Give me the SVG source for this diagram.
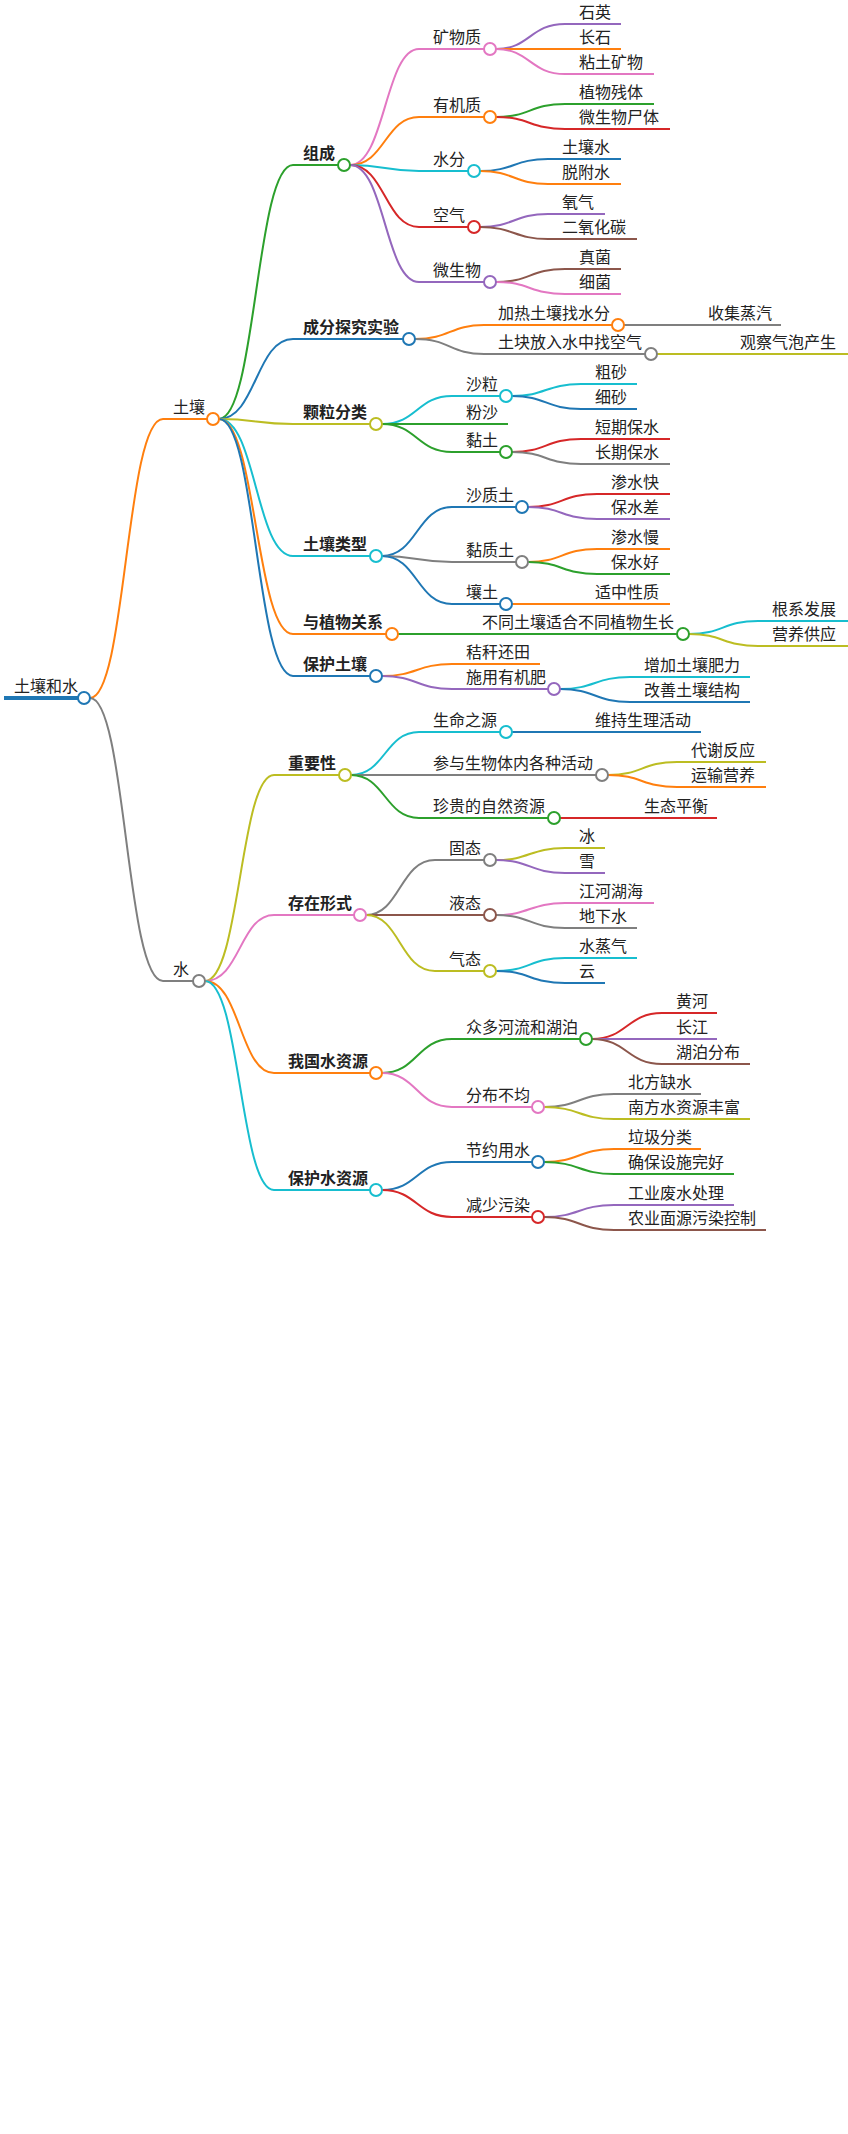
<svg xmlns="http://www.w3.org/2000/svg" width="848" height="2134" viewBox="0 0 848 2134">
<style>
text{font-family:"Noto Sans CJK SC","Liberation Sans",sans-serif;font-size:16px;fill:#222}
.b{font-weight:bold}
path,line{fill:none;stroke-width:2}
circle{fill:#fff;stroke-width:2}
.blue{stroke:#1f77b4}.orange{stroke:#ff7f0e}.green{stroke:#2ca02c}.red{stroke:#d62728}.purple{stroke:#9467bd}.brown{stroke:#8c564b}.pink{stroke:#e377c2}.gray{stroke:#7f7f7f}.olive{stroke:#bcbd22}.cyan{stroke:#17becf}
</style>
<rect width="848" height="2134" fill="#fff"/>
<g id="connectors">
<path class="orange" d="M90 698C126 698 126 419 163 419"/>
<path class="gray" d="M90 698C126 698 126 981 163 981"/>
<path class="green" d="M219 419C256 419 256 165 293 165"/>
<path class="blue" d="M219 419C256 419 256 339 293 339"/>
<path class="olive" d="M219 419C256 419 256 424 293 424"/>
<path class="cyan" d="M219 419C256 419 256 556 293 556"/>
<path class="orange" d="M219 419C256 419 256 634 293 634"/>
<path class="blue" d="M219 419C256 419 256 676 293 676"/>
<path class="pink" d="M350 165C385 165 385 49 419 49"/>
<path class="orange" d="M350 165C385 165 385 117 419 117"/>
<path class="cyan" d="M350 165C385 165 385 171 419 171"/>
<path class="red" d="M350 165C385 165 385 227 419 227"/>
<path class="purple" d="M350 165C385 165 385 282 419 282"/>
<path class="purple" d="M496 49C530 49 530 24 565 24"/>
<path class="orange" d="M496 49C530 49 530 49 565 49"/>
<path class="pink" d="M496 49C530 49 530 74 565 74"/>
<path class="green" d="M496 117C530 117 530 104 565 104"/>
<path class="red" d="M496 117C530 117 530 129 565 129"/>
<path class="blue" d="M480 171C514 171 514 159 548 159"/>
<path class="orange" d="M480 171C514 171 514 184 548 184"/>
<path class="purple" d="M480 227C514 227 514 214 548 214"/>
<path class="brown" d="M480 227C514 227 514 239 548 239"/>
<path class="brown" d="M496 282C530 282 530 269 565 269"/>
<path class="pink" d="M496 282C530 282 530 294 565 294"/>
<path class="orange" d="M415 339C450 339 450 325 484 325"/>
<path class="gray" d="M415 339C450 339 450 354 484 354"/>
<path class="gray" d="M624 325L694 325"/>
<path class="olive" d="M657 354L726 354"/>
<path class="cyan" d="M382 424C417 424 417 396 452 396"/>
<path class="green" d="M382 424C417 424 417 424 452 424"/>
<path class="green" d="M382 424C417 424 417 452 452 452"/>
<path class="cyan" d="M512 396C546 396 546 384 581 384"/>
<path class="blue" d="M512 396C546 396 546 409 581 409"/>
<path class="red" d="M512 452C546 452 546 439 581 439"/>
<path class="gray" d="M512 452C546 452 546 464 581 464"/>
<path class="blue" d="M382 556C417 556 417 507 452 507"/>
<path class="gray" d="M382 556C417 556 417 562 452 562"/>
<path class="blue" d="M382 556C417 556 417 604 452 604"/>
<path class="red" d="M528 507C562 507 562 494 597 494"/>
<path class="purple" d="M528 507C562 507 562 519 597 519"/>
<path class="orange" d="M528 562C562 562 562 549 597 549"/>
<path class="green" d="M528 562C562 562 562 574 597 574"/>
<path class="orange" d="M512 604L581 604"/>
<path class="green" d="M398 634L468 634"/>
<path class="cyan" d="M689 634C723 634 723 621 758 621"/>
<path class="olive" d="M689 634C723 634 723 646 758 646"/>
<path class="orange" d="M382 676C417 676 417 664 452 664"/>
<path class="purple" d="M382 676C417 676 417 689 452 689"/>
<path class="cyan" d="M560 689C595 689 595 677 630 677"/>
<path class="blue" d="M560 689C595 689 595 702 630 702"/>
<path class="olive" d="M205 981C240 981 240 775 274 775"/>
<path class="pink" d="M205 981C240 981 240 915 274 915"/>
<path class="orange" d="M205 981C240 981 240 1073 274 1073"/>
<path class="cyan" d="M205 981C240 981 240 1190 274 1190"/>
<path class="cyan" d="M351 775C385 775 385 732 419 732"/>
<path class="gray" d="M351 775C385 775 385 775 419 775"/>
<path class="green" d="M351 775C385 775 385 818 419 818"/>
<path class="blue" d="M512 732L581 732"/>
<path class="olive" d="M608 775C642 775 642 762 677 762"/>
<path class="orange" d="M608 775C642 775 642 787 677 787"/>
<path class="red" d="M560 818L630 818"/>
<path class="gray" d="M366 915C400 915 400 860 435 860"/>
<path class="brown" d="M366 915C400 915 400 915 435 915"/>
<path class="olive" d="M366 915C400 915 400 971 435 971"/>
<path class="olive" d="M496 860C530 860 530 848 565 848"/>
<path class="purple" d="M496 860C530 860 530 873 565 873"/>
<path class="pink" d="M496 915C530 915 530 903 565 903"/>
<path class="gray" d="M496 915C530 915 530 928 565 928"/>
<path class="cyan" d="M496 971C530 971 530 958 565 958"/>
<path class="blue" d="M496 971C530 971 530 983 565 983"/>
<path class="green" d="M382 1073C417 1073 417 1039 452 1039"/>
<path class="pink" d="M382 1073C417 1073 417 1107 452 1107"/>
<path class="red" d="M592 1039C627 1039 627 1013 662 1013"/>
<path class="purple" d="M592 1039C627 1039 627 1039 662 1039"/>
<path class="brown" d="M592 1039C627 1039 627 1064 662 1064"/>
<path class="gray" d="M544 1107C579 1107 579 1094 614 1094"/>
<path class="olive" d="M544 1107C579 1107 579 1119 614 1119"/>
<path class="blue" d="M382 1190C417 1190 417 1162 452 1162"/>
<path class="red" d="M382 1190C417 1190 417 1217 452 1217"/>
<path class="orange" d="M544 1162C579 1162 579 1149 614 1149"/>
<path class="green" d="M544 1162C579 1162 579 1174 614 1174"/>
<path class="purple" d="M544 1217C579 1217 579 1205 614 1205"/>
<path class="brown" d="M544 1217C579 1217 579 1230 614 1230"/>
</g>
<g id="root"><line class="blue" style="stroke-width:4" x1="4" y1="698" x2="78" y2="698"/><circle class="blue" cx="84" cy="698" r="6"/><text x="14" y="692">土壤和水</text></g>
<g id="n-turang"><line class="orange" x1="163" y1="419" x2="207" y2="419"/><circle class="orange" cx="213" cy="419" r="6"/><text x="173" y="413">土壤</text></g>
<g id="n-shui"><line class="gray" x1="163" y1="981" x2="193" y2="981"/><circle class="gray" cx="199" cy="981" r="6"/><text x="173" y="975">水</text></g>
<g id="n-zucheng"><line class="green" x1="293" y1="165" x2="338" y2="165"/><circle class="green" cx="344" cy="165" r="6"/><text class="b" x="303" y="159">组成</text></g>
<g id="n-kuangwu"><line class="pink" x1="419" y1="49" x2="484" y2="49"/><circle class="pink" cx="490" cy="49" r="6"/><text x="433" y="43">矿物质</text></g>
<g id="n-shiying"><line class="purple" x1="565" y1="24" x2="621" y2="24"/><text x="579" y="18">石英</text></g>
<g id="n-changshi"><line class="orange" x1="565" y1="49" x2="621" y2="49"/><text x="579" y="43">长石</text></g>
<g id="n-niantu"><line class="pink" x1="565" y1="74" x2="654" y2="74"/><text x="579" y="68">粘土矿物</text></g>
<g id="n-youji"><line class="orange" x1="419" y1="117" x2="484" y2="117"/><circle class="orange" cx="490" cy="117" r="6"/><text x="433" y="111">有机质</text></g>
<g id="n-zhiwu"><line class="green" x1="565" y1="104" x2="654" y2="104"/><text x="579" y="98">植物残体</text></g>
<g id="n-weisw"><line class="red" x1="565" y1="129" x2="670" y2="129"/><text x="579" y="123">微生物尸体</text></g>
<g id="n-shuifen"><line class="cyan" x1="419" y1="171" x2="468" y2="171"/><circle class="cyan" cx="474" cy="171" r="6"/><text x="433" y="165">水分</text></g>
<g id="n-trs"><line class="blue" x1="548" y1="159" x2="621" y2="159"/><text x="562" y="153">土壤水</text></g>
<g id="n-tfs"><line class="orange" x1="548" y1="184" x2="621" y2="184"/><text x="562" y="178">脱附水</text></g>
<g id="n-kongqi"><line class="red" x1="419" y1="227" x2="468" y2="227"/><circle class="red" cx="474" cy="227" r="6"/><text x="433" y="221">空气</text></g>
<g id="n-yangqi"><line class="purple" x1="548" y1="214" x2="605" y2="214"/><text x="562" y="208">氧气</text></g>
<g id="n-co2"><line class="brown" x1="548" y1="239" x2="637" y2="239"/><text x="562" y="233">二氧化碳</text></g>
<g id="n-wsw"><line class="purple" x1="419" y1="282" x2="484" y2="282"/><circle class="purple" cx="490" cy="282" r="6"/><text x="433" y="276">微生物</text></g>
<g id="n-zhenjun"><line class="brown" x1="565" y1="269" x2="621" y2="269"/><text x="579" y="263">真菌</text></g>
<g id="n-xijun"><line class="pink" x1="565" y1="294" x2="621" y2="294"/><text x="579" y="288">细菌</text></g>
<g id="n-chengfen"><line class="blue" x1="293" y1="339" x2="403" y2="339"/><circle class="blue" cx="409" cy="339" r="6"/><text class="b" x="303" y="333">成分探究实验</text></g>
<g id="n-jiare"><line class="orange" x1="484" y1="325" x2="612" y2="325"/><circle class="orange" cx="618" cy="325" r="6"/><text x="498" y="319">加热土壤找水分</text></g>
<g id="n-shouji"><line class="gray" x1="694" y1="325" x2="781" y2="325"/><text x="708" y="319">收集蒸汽</text></g>
<g id="n-tukuai"><line class="gray" x1="484" y1="354" x2="645" y2="354"/><circle class="gray" cx="651" cy="354" r="6"/><text x="498" y="348">土块放入水中找空气</text></g>
<g id="n-guancha"><line class="olive" x1="726" y1="354" x2="848" y2="354"/><text x="740" y="348">观察气泡产生</text></g>
<g id="n-keli"><line class="olive" x1="293" y1="424" x2="370" y2="424"/><circle class="olive" cx="376" cy="424" r="6"/><text class="b" x="303" y="418">颗粒分类</text></g>
<g id="n-shali"><line class="cyan" x1="452" y1="396" x2="500" y2="396"/><circle class="cyan" cx="506" cy="396" r="6"/><text x="466" y="390">沙粒</text></g>
<g id="n-cusha"><line class="cyan" x1="581" y1="384" x2="637" y2="384"/><text x="595" y="378">粗砂</text></g>
<g id="n-xisha"><line class="blue" x1="581" y1="409" x2="637" y2="409"/><text x="595" y="403">细砂</text></g>
<g id="n-fensha"><line class="green" x1="452" y1="424" x2="508" y2="424"/><text x="466" y="418">粉沙</text></g>
<g id="n-niantu2"><line class="green" x1="452" y1="452" x2="500" y2="452"/><circle class="green" cx="506" cy="452" r="6"/><text x="466" y="446">黏土</text></g>
<g id="n-duanqi"><line class="red" x1="581" y1="439" x2="670" y2="439"/><text x="595" y="433">短期保水</text></g>
<g id="n-changqi"><line class="gray" x1="581" y1="464" x2="670" y2="464"/><text x="595" y="458">长期保水</text></g>
<g id="n-leixing"><line class="cyan" x1="293" y1="556" x2="370" y2="556"/><circle class="cyan" cx="376" cy="556" r="6"/><text class="b" x="303" y="550">土壤类型</text></g>
<g id="n-shazhi"><line class="blue" x1="452" y1="507" x2="516" y2="507"/><circle class="blue" cx="522" cy="507" r="6"/><text x="466" y="501">沙质土</text></g>
<g id="n-sskuai"><line class="red" x1="597" y1="494" x2="670" y2="494"/><text x="611" y="488">渗水快</text></g>
<g id="n-bscha"><line class="purple" x1="597" y1="519" x2="670" y2="519"/><text x="611" y="513">保水差</text></g>
<g id="n-nianzhi"><line class="gray" x1="452" y1="562" x2="516" y2="562"/><circle class="gray" cx="522" cy="562" r="6"/><text x="466" y="556">黏质土</text></g>
<g id="n-ssman"><line class="orange" x1="597" y1="549" x2="670" y2="549"/><text x="611" y="543">渗水慢</text></g>
<g id="n-bshao"><line class="green" x1="597" y1="574" x2="670" y2="574"/><text x="611" y="568">保水好</text></g>
<g id="n-rangtu"><line class="blue" x1="452" y1="604" x2="500" y2="604"/><circle class="blue" cx="506" cy="604" r="6"/><text x="466" y="598">壤土</text></g>
<g id="n-shizhong"><line class="orange" x1="581" y1="604" x2="670" y2="604"/><text x="595" y="598">适中性质</text></g>
<g id="n-zhiwugx"><line class="orange" x1="293" y1="634" x2="386" y2="634"/><circle class="orange" cx="392" cy="634" r="6"/><text class="b" x="303" y="628">与植物关系</text></g>
<g id="n-butong"><line class="green" x1="468" y1="634" x2="677" y2="634"/><circle class="green" cx="683" cy="634" r="6"/><text x="482" y="628">不同土壤适合不同植物生长</text></g>
<g id="n-genxi"><line class="cyan" x1="758" y1="621" x2="848" y2="621"/><text x="772" y="615">根系发展</text></g>
<g id="n-yingyang"><line class="olive" x1="758" y1="646" x2="848" y2="646"/><text x="772" y="640">营养供应</text></g>
<g id="n-baohutr"><line class="blue" x1="293" y1="676" x2="370" y2="676"/><circle class="blue" cx="376" cy="676" r="6"/><text class="b" x="303" y="670">保护土壤</text></g>
<g id="n-jiegan"><line class="orange" x1="452" y1="664" x2="540" y2="664"/><text x="466" y="658">秸秆还田</text></g>
<g id="n-shiyong"><line class="purple" x1="452" y1="689" x2="548" y2="689"/><circle class="purple" cx="554" cy="689" r="6"/><text x="466" y="683">施用有机肥</text></g>
<g id="n-zengjia"><line class="cyan" x1="630" y1="677" x2="750" y2="677"/><text x="644" y="671">增加土壤肥力</text></g>
<g id="n-gaishan"><line class="blue" x1="630" y1="702" x2="750" y2="702"/><text x="644" y="696">改善土壤结构</text></g>
<g id="n-zhongyao"><line class="olive" x1="274" y1="775" x2="339" y2="775"/><circle class="olive" cx="345" cy="775" r="6"/><text class="b" x="288" y="769">重要性</text></g>
<g id="n-shengming"><line class="cyan" x1="419" y1="732" x2="500" y2="732"/><circle class="cyan" cx="506" cy="732" r="6"/><text x="433" y="726">生命之源</text></g>
<g id="n-weichi"><line class="blue" x1="581" y1="732" x2="701" y2="732"/><text x="595" y="726">维持生理活动</text></g>
<g id="n-canyu"><line class="gray" x1="419" y1="775" x2="596" y2="775"/><circle class="gray" cx="602" cy="775" r="6"/><text x="433" y="769">参与生物体内各种活动</text></g>
<g id="n-daixie"><line class="olive" x1="677" y1="762" x2="766" y2="762"/><text x="691" y="756">代谢反应</text></g>
<g id="n-yunshu"><line class="orange" x1="677" y1="787" x2="766" y2="787"/><text x="691" y="781">运输营养</text></g>
<g id="n-zhengui"><line class="green" x1="419" y1="818" x2="548" y2="818"/><circle class="green" cx="554" cy="818" r="6"/><text x="433" y="812">珍贵的自然资源</text></g>
<g id="n-shengtai"><line class="red" x1="630" y1="818" x2="717" y2="818"/><text x="644" y="812">生态平衡</text></g>
<g id="n-cunzai"><line class="pink" x1="274" y1="915" x2="354" y2="915"/><circle class="pink" cx="360" cy="915" r="6"/><text class="b" x="288" y="909">存在形式</text></g>
<g id="n-gutai"><line class="gray" x1="435" y1="860" x2="484" y2="860"/><circle class="gray" cx="490" cy="860" r="6"/><text x="449" y="854">固态</text></g>
<g id="n-bing"><line class="olive" x1="565" y1="848" x2="605" y2="848"/><text x="579" y="842">冰</text></g>
<g id="n-xue"><line class="purple" x1="565" y1="873" x2="605" y2="873"/><text x="579" y="867">雪</text></g>
<g id="n-yetai"><line class="brown" x1="435" y1="915" x2="484" y2="915"/><circle class="brown" cx="490" cy="915" r="6"/><text x="449" y="909">液态</text></g>
<g id="n-jianghe"><line class="pink" x1="565" y1="903" x2="654" y2="903"/><text x="579" y="897">江河湖海</text></g>
<g id="n-dixia"><line class="gray" x1="565" y1="928" x2="637" y2="928"/><text x="579" y="922">地下水</text></g>
<g id="n-qitai"><line class="olive" x1="435" y1="971" x2="484" y2="971"/><circle class="olive" cx="490" cy="971" r="6"/><text x="449" y="965">气态</text></g>
<g id="n-zhengqi"><line class="cyan" x1="565" y1="958" x2="637" y2="958"/><text x="579" y="952">水蒸气</text></g>
<g id="n-yun"><line class="blue" x1="565" y1="983" x2="605" y2="983"/><text x="579" y="977">云</text></g>
<g id="n-woguo"><line class="orange" x1="274" y1="1073" x2="370" y2="1073"/><circle class="orange" cx="376" cy="1073" r="6"/><text class="b" x="288" y="1067">我国水资源</text></g>
<g id="n-zhongduo"><line class="green" x1="452" y1="1039" x2="580" y2="1039"/><circle class="green" cx="586" cy="1039" r="6"/><text x="466" y="1033">众多河流和湖泊</text></g>
<g id="n-huanghe"><line class="red" x1="662" y1="1013" x2="717" y2="1013"/><text x="676" y="1007">黄河</text></g>
<g id="n-changjiang"><line class="purple" x1="662" y1="1039" x2="717" y2="1039"/><text x="676" y="1033">长江</text></g>
<g id="n-hubo"><line class="brown" x1="662" y1="1064" x2="750" y2="1064"/><text x="676" y="1058">湖泊分布</text></g>
<g id="n-fenbu"><line class="pink" x1="452" y1="1107" x2="532" y2="1107"/><circle class="pink" cx="538" cy="1107" r="6"/><text x="466" y="1101">分布不均</text></g>
<g id="n-beifang"><line class="gray" x1="614" y1="1094" x2="701" y2="1094"/><text x="628" y="1088">北方缺水</text></g>
<g id="n-nanfang"><line class="olive" x1="614" y1="1119" x2="750" y2="1119"/><text x="628" y="1113">南方水资源丰富</text></g>
<g id="n-baohusz"><line class="cyan" x1="274" y1="1190" x2="370" y2="1190"/><circle class="cyan" cx="376" cy="1190" r="6"/><text class="b" x="288" y="1184">保护水资源</text></g>
<g id="n-jieyue"><line class="blue" x1="452" y1="1162" x2="532" y2="1162"/><circle class="blue" cx="538" cy="1162" r="6"/><text x="466" y="1156">节约用水</text></g>
<g id="n-laji"><line class="orange" x1="614" y1="1149" x2="701" y2="1149"/><text x="628" y="1143">垃圾分类</text></g>
<g id="n-quebao"><line class="green" x1="614" y1="1174" x2="734" y2="1174"/><text x="628" y="1168">确保设施完好</text></g>
<g id="n-jianshao"><line class="red" x1="452" y1="1217" x2="532" y2="1217"/><circle class="red" cx="538" cy="1217" r="6"/><text x="466" y="1211">减少污染</text></g>
<g id="n-gongye"><line class="purple" x1="614" y1="1205" x2="734" y2="1205"/><text x="628" y="1199">工业废水处理</text></g>
<g id="n-nongye"><line class="brown" x1="614" y1="1230" x2="766" y2="1230"/><text x="628" y="1224">农业面源污染控制</text></g>
</svg>
